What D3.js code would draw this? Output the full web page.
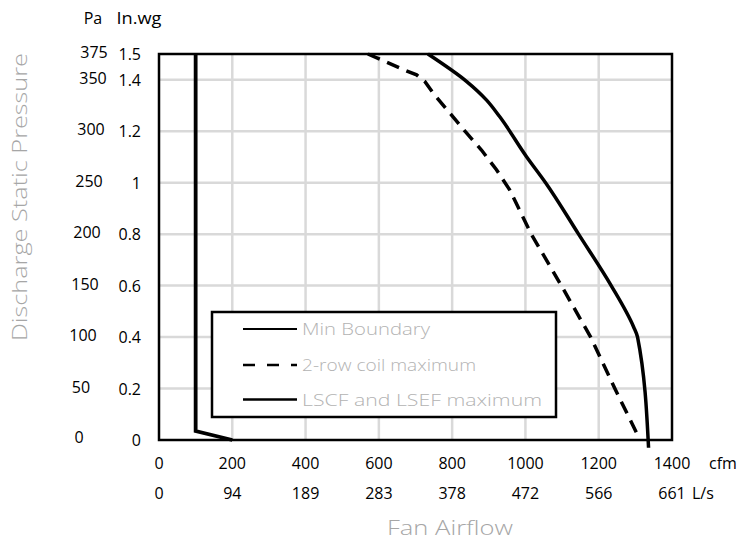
<!DOCTYPE html>
<html><head><meta charset="utf-8">
<script src="https://cdn.jsdelivr.net/npm/d3@7"></script>
<style>body{margin:0;background:#fff}svg{display:block}text{font-family:"Open Sans","Liberation Sans",sans-serif}</style>
</head><body>
<svg id="c" width="741" height="541"></svg>
<script>
const cfmTicks = [0,200,400,600,800,1000,1200,1400];
const lsTicks = ["0","94","189","283","378","472","566","661"];
const inwgTicks = [0,0.2,0.4,0.6,0.8,1,1.2,1.4,1.5];
const paTicks = [0,50,100,150,200,250,300,350,375];
const gridX = [200,400,600,800,1000,1200];
const gridY = [0.2,0.4,0.6,0.8,1.0,1.2,1.4];

const minBoundary = [[100,1.5],[100,0.035],[200,0]];
const coilMax = [[570,1.5],[666,1.44],[703,1.419],[725,1.394],[748,1.348],[794,1.27],[835,1.2],[880,1.127],[921,1.05],[957,0.972],[1016,0.8],[1098,0.6],[1178,0.4],[1244,0.2],[1306,0.02]];
const lscfMax = [[734,1.5],[839,1.394],[894,1.321],[930,1.256],[1003,1.101],[1055,1.0],[1145,0.8],[1234,0.6],[1295,0.44],[1306,0.40],[1336,-0.03]];
const seriesNames = ["Min Boundary","2-row coil maximum","LSCF and LSEF maximum"];

const svg = d3.select("#c");
const L=159, R=672, T=54, B=440;
const x = d3.scaleLinear().domain([0,1400]).range([L,R]);
const y = d3.scaleLinear().domain([0,1.5]).range([B,T]);

// grid
svg.append("g").selectAll("line").data(gridX).join("line")
  .attr("x1",d=>x(d)).attr("x2",d=>x(d)).attr("y1",T).attr("y2",B)
  .attr("stroke","#d9d9d9").attr("stroke-width",2.5);
svg.append("g").selectAll("line").data(gridY).join("line")
  .attr("x1",L).attr("x2",R).attr("y1",d=>y(d)).attr("y2",d=>y(d))
  .attr("stroke","#d9d9d9").attr("stroke-width",2.5);

// border
svg.append("rect").attr("x",L).attr("y",T).attr("width",R-L).attr("height",B-T)
  .attr("fill","none").attr("stroke","#000").attr("stroke-width",2.5);

const line = d3.line().x(d=>x(d[0])).y(d=>y(d[1]));
svg.append("path").datum(minBoundary).attr("d",line).attr("fill","none").attr("stroke","#000").attr("stroke-width",3.8);
svg.append("path").datum(coilMax).attr("d",line).attr("fill","none").attr("stroke","#000").attr("stroke-width",3.5).attr("stroke-dasharray","13,8");
svg.append("path").datum(lscfMax).attr("d",line.curve(d3.curveMonotoneY)).attr("fill","none").attr("stroke","#000").attr("stroke-width",3.5);

// x tick labels
svg.append("g").selectAll("text").data(cfmTicks).join("text")
  .attr("x",d=>x(d)).attr("y",469).attr("text-anchor","middle")
  .attr("font-size",16).attr("fill","#000").text(d=>d);
svg.append("g").selectAll("text").data(lsTicks).join("text")
  .attr("x",(d,i)=>x(cfmTicks[i])).attr("y",499).attr("text-anchor","middle")
  .attr("font-size",16).attr("fill","#000").text(d=>d);
svg.append("text").attr("x",709).attr("y",469).attr("font-size",16).text("cfm");
svg.append("text").attr("x",692).attr("y",499).attr("font-size",16).text("L/s");

// y tick labels
svg.append("g").selectAll("text").data(inwgTicks).join("text")
  .attr("x",141).attr("y",d=>y(d)+6).attr("text-anchor","end")
  .attr("font-size",16).attr("fill","#000").text(d=>d);
svg.append("g").selectAll("text").data(paTicks).join("text")
  .attr("x",d=>79+15*d/375).attr("y",d=>y(d/250)+4 - (d===0?1:0)).attr("text-anchor","middle")
  .attr("font-size",16).attr("fill","#000").text(d=>d);
svg.append("text").attr("x",93).attr("y",24).attr("text-anchor","middle").attr("font-size",16).text("Pa");
svg.append("text").attr("x",139).attr("y",24).attr("text-anchor","middle").attr("font-size",16)
  .attr("textLength",45).attr("lengthAdjust","spacingAndGlyphs").text("In.wg");

// axis titles
svg.append("text").attr("transform","translate(27,197) rotate(-90)").attr("text-anchor","middle")
  .attr("font-size",20).attr("font-weight",300).attr("fill","#a6a6a6")
  .attr("textLength",288).attr("lengthAdjust","spacingAndGlyphs").text("Discharge Static Pressure");
svg.append("text").attr("x",450).attr("y",535).attr("text-anchor","middle")
  .attr("font-size",21).attr("font-weight",300).attr("fill","#a6a6a6")
  .attr("textLength",126).attr("lengthAdjust","spacingAndGlyphs").text("Fan Airflow");

// legend
const lg = svg.append("g");
lg.append("rect").attr("x",212).attr("y",312).attr("width",344).attr("height",105)
  .attr("fill","#fff").attr("stroke","#000").attr("stroke-width",2.5);
const rows=[329,365,399.5];
const styles=[{w:2,d:null},{w:2.5,d:"12,12"},{w:2.5,d:null}];
const textLens=[128,174,240];
seriesNames.forEach((n,i)=>{
  lg.append("line").attr("x1",243).attr("x2",297).attr("y1",rows[i]).attr("y2",rows[i])
    .attr("stroke","#000").attr("stroke-width",styles[i].w).attr("stroke-dasharray",styles[i].d);
  lg.append("text").attr("x",302).attr("y",rows[i]+6).attr("font-size",17).attr("font-weight",300)
    .attr("fill","#b3b3b3").attr("textLength",textLens[i]).attr("lengthAdjust","spacingAndGlyphs").text(n);
});
</script>
</body></html>
